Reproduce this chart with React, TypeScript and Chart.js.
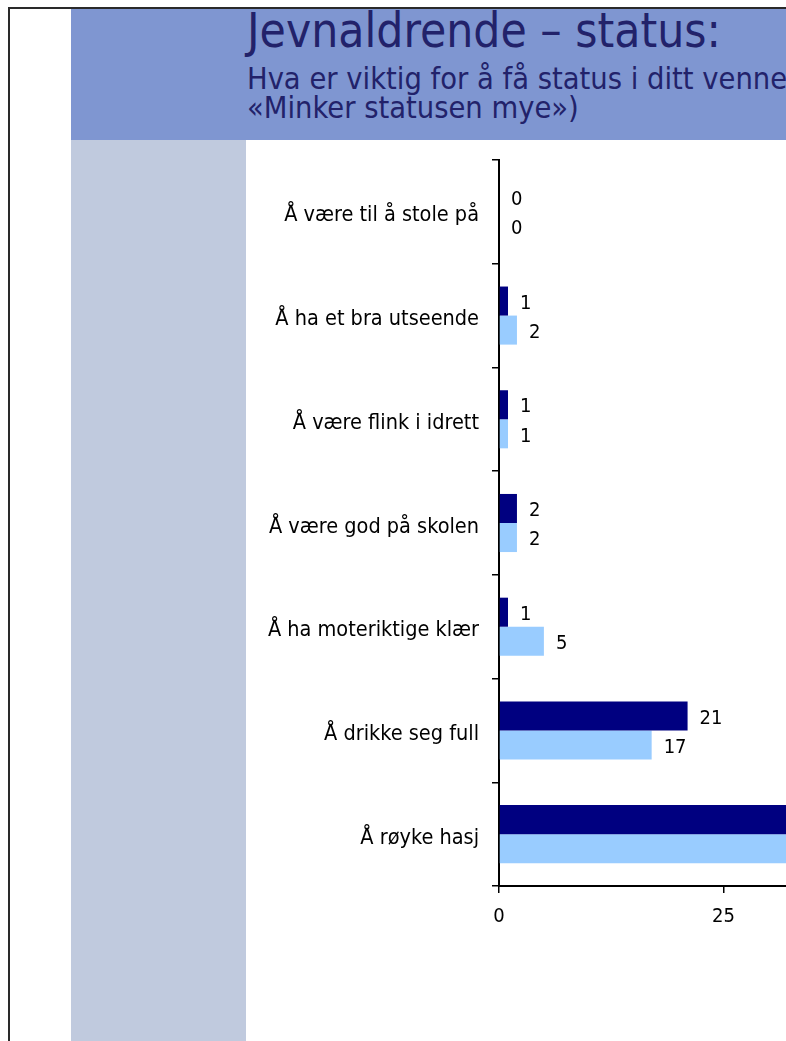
import React, { useEffect, useRef } from "react";
import { Chart, registerables } from "chart.js";

Chart.register(...registerables);

const categories = [
  "Å være til å stole på",
  "Å ha et bra utseende",
  "Å være flink i idrett",
  "Å være god på skolen",
  "Å ha moteriktige klær",
  "Å drikke seg full",
  "Å røyke hasj",
];
const seriesNames = ["Serie 1", "Serie 2"];
const seriesDark = [0, 1, 1, 2, 1, 21, 47];
const seriesLight = [0, 2, 1, 2, 5, 17, 41];
const xMin = 0;
const xMax = 50;
const xStep = 25;

const titleText = "Jevnaldrende – status:";
const subtitleLine1 = "Hva er viktig for å få status i ditt vennemiljø? (Andel som svarer";
const subtitleLine2 = "«Minker statusen mye»)";

const FONT = "'DejaVu Sans Condensed', 'DejaVu Sans', sans-serif";

const valueLabels = {
  id: "valueLabels",
  afterDatasetsDraw(chart: any) {
    const ctx = chart.ctx;
    ctx.save();
    ctx.font = `20px ${FONT}`;
    ctx.fillStyle = "#000";
    ctx.textBaseline = "middle";
    ctx.textAlign = "left";
    chart.data.datasets.forEach((ds: any, i: number) => {
      chart.getDatasetMeta(i).data.forEach((bar: any, j: number) => {
        ctx.fillText(String(ds.data[j]), bar.x + 12, bar.y + 2.5);
      });
    });
    ctx.restore();
  },
};

function BarChart() {
  const ref = useRef<HTMLCanvasElement>(null);
  useEffect(() => {
    if (!ref.current) return;
    const chart = new Chart(ref.current, {
      type: "bar",
      data: {
        labels: categories,
        datasets: [
          {
            label: seriesNames[0],
            data: seriesDark,
            backgroundColor: "#000080",
            borderWidth: 0,
            categoryPercentage: 0.56,
            barPercentage: 1,
          },
          {
            label: seriesNames[1],
            data: seriesLight,
            backgroundColor: "#99CCFF",
            borderWidth: 0,
            categoryPercentage: 0.56,
            barPercentage: 1,
          },
        ],
      },
      options: {
        indexAxis: "y",
        animation: false,
        responsive: false,
        devicePixelRatio: 1,
        layout: { padding: { top: 20, right: 58, bottom: 0, left: 0 } },
        plugins: {
          legend: { display: false },
          tooltip: { enabled: false },
          title: { display: false },
        },
        scales: {
          x: {
            min: xMin,
            max: xMax,
            ticks: {
              stepSize: xStep,
              color: "#000",
              font: { family: FONT, size: 20 },
              padding: 12,
            },
            grid: {
              drawOnChartArea: false,
              drawTicks: true,
              tickLength: 7,
              color: "#000",
              lineWidth: 1.5,
            },
            border: { display: true, color: "#000", width: 2 },
            afterFit(s: any) {
              s.height = 155;
              s.paddingLeft = 0;
              s.paddingRight = 0;
            },
          },
          y: {
            offset: true,
            ticks: {
              color: "#000",
              font: { family: FONT, size: 21.5 },
              padding: 13,
              labelOffset: 4,
            },
            grid: {
              offset: true,
              drawOnChartArea: false,
              drawTicks: true,
              tickLength: 7,
              color: "#000",
              lineWidth: 1.5,
            },
            border: { display: true, color: "#000", width: 2 },
            afterFit(s: any) {
              s.width = 253;
              s.paddingTop = 0;
              s.paddingBottom = 0;
            },
          },
        },
      },
      plugins: [valueLabels],
    } as any);
    return () => chart.destroy();
  }, []);
  return <canvas ref={ref} width={760} height={901} style={{ display: "block" }} />;
}

export default function App() {
  return (
    <div
      style={{
        position: "fixed",
        left: 0,
        top: 0,
        width: 786,
        height: 1041,
        overflow: "hidden",
        background: "#fff",
        fontFamily: FONT,
      }}
    >
      {/* frame */}
      <div
        style={{
          position: "absolute",
          left: 8,
          top: 7,
          width: 900,
          height: 1100,
          borderLeft: "2px solid #2a2a2a",
          borderTop: "2px solid #2a2a2a",
        }}
      />
      {/* header band */}
      <div
        style={{
          position: "absolute",
          left: 71,
          top: 9,
          width: 800,
          height: 131,
          background: "#7F96D1",
        }}
      />
      {/* side panel */}
      <div
        style={{
          position: "absolute",
          left: 71,
          top: 140,
          width: 175,
          height: 901,
          background: "#C0CADE",
        }}
      />
      <div
        style={{
          position: "absolute",
          left: 247,
          top: 7,
          fontSize: 47.5,
          lineHeight: "47px",
          color: "#22226A",
          whiteSpace: "nowrap",
        }}
      >
        {titleText}
      </div>
      <div
        style={{
          position: "absolute",
          left: 247,
          top: 64,
          fontSize: 30.5,
          lineHeight: "29px",
          color: "#22226A",
          whiteSpace: "nowrap",
        }}
      >
        <div>{subtitleLine1}</div>
        <div>{subtitleLine2}</div>
      </div>
      <div style={{ position: "absolute", left: 246, top: 140 }}>
        <BarChart />
      </div>
    </div>
  );
}
